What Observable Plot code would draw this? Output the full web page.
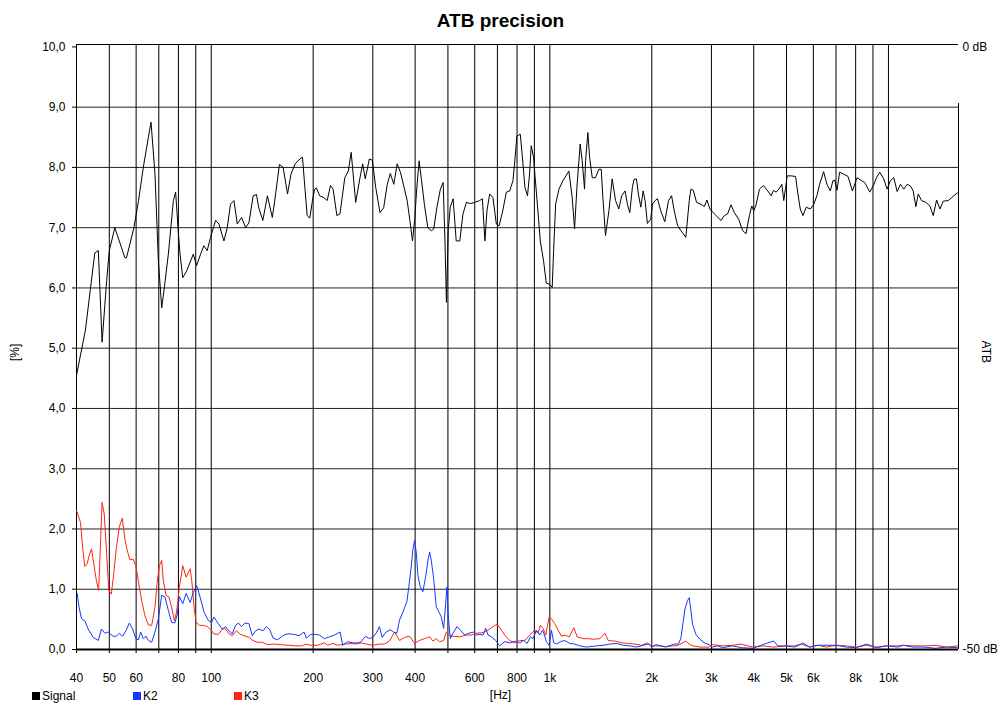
<!DOCTYPE html>
<html><head><meta charset="utf-8">
<script src="https://cdn.jsdelivr.net/npm/d3@7"></script>
<script src="https://cdn.jsdelivr.net/npm/@observablehq/plot@0.6"></script>
<style>
body{margin:0;background:#fff;font-family:"Liberation Sans",Arial,sans-serif;}
#wrap{position:relative;width:1004px;height:706px;overflow:hidden;}
#legend{position:absolute;left:32px;top:689px;font-size:12px;color:#000;display:flex;}
#legend .item{width:101px;display:flex;align-items:center;white-space:nowrap;}
#legend .sw{width:8px;height:8px;margin-right:2px;display:inline-block;}
</style></head>
<body><div id="wrap"></div>
<script>
// ---- data (frequency in Hz, values in %) ----
const sigF = [40,42.5,44,45.3,46.4,47.6,49.1,50,51.9,55.6,56.2,59.1,61,63,65.2,66.4,68.2,69.8,71.4,72.3,74.7,77.3,78.5,80,80.9,82.4,84.6,88.5,90.5,93,95.1,97.3,99.5,103,105.4,109,111.5,114,116.7,119.4,122.9,126.3,129.2,133,136,138,142,146.5,151.5,154,159,163,168,172,177,182.6,186,189,192,195.5,199,202,204.5,209,215,220,225,229,235,240,248,254,259,267,275,280,285,293,299,306,315,323,331,338,346,354,362,370,379,386,393,399,404,411,418,426,436,447,454,464,475,484,490,495,501,508,518,529,542,554,567,582,600,620,632,643,652,664,679,695,708,724,744,761,778,789,799,818,833,844,859,871,881,895,904,920,937,958,976,998,1016,1026,1040,1064,1093,1138,1164,1183,1202,1229,1246,1266,1275,1295,1310,1334,1364,1395,1418,1434,1460,1494,1528,1563,1598,1630,1668,1694,1722,1753,1772,1802,1826,1856,1886,1911,1941,1986,2009,2046,2079,2126,2185,2241,2288,2330,2382,2438,2521,2580,2610,2652,2712,2794,2858,2910,2970,3059,3202,3276,3350,3428,3507,3611,3711,3796,3884,3947,4001,4065,4159,4274,4401,4503,4576,4660,4745,4842,4908,4964,5020,5160,5316,5402,5489,5590,5718,5876,6010,6148,6261,6433,6581,6733,6856,6934,7046,7175,7374,7596,7824,8077,8318,8510,8805,9048,9214,9425,9686,9909,10137,10370,10608,10852,11102,11356,11617,11831,12049,12242,12522,12899,13256,13561,13872,14192,14518,15021,15369,16000];
const sigV = [4.55,5.3,6.0,6.58,6.62,5.1,6.12,6.62,7.0,6.5,6.5,7.0,7.45,8.0,8.5,8.75,7.9,6.45,5.67,5.9,6.56,7.45,7.59,6.9,6.56,6.17,6.28,6.56,6.37,6.56,6.7,6.62,6.84,7.12,7.06,6.78,7.0,7.39,7.45,7.06,7.17,7.0,7.08,7.53,7.55,7.34,7.12,7.53,7.17,7.45,8.05,8.0,7.56,7.89,8.06,8.14,8.17,7.67,7.2,7.16,7.45,7.64,7.66,7.53,7.5,7.45,7.7,7.64,7.2,7.23,7.83,7.94,8.25,7.42,7.83,8.06,7.81,8.14,8.12,7.67,7.25,7.33,7.72,7.9,7.72,8.06,7.92,7.7,7.45,7.12,6.78,7.14,7.61,8.11,7.78,7.39,7.0,6.95,6.98,7.34,7.64,7.75,6.78,5.76,6.95,7.34,7.48,6.78,6.78,7.23,7.42,7.4,7.42,7.45,7.48,6.78,7.28,7.56,7.5,7.06,7.03,7.25,7.59,7.61,7.78,8.14,8.52,8.55,8.06,7.67,7.53,7.89,8.36,8.17,7.86,7.34,6.78,6.45,6.08,6.06,6.01,6.62,7.39,7.64,7.78,7.94,7.5,6.98,7.67,8.39,8.11,7.64,8.11,8.58,8.17,7.83,7.83,7.97,7.97,7.5,6.87,7.28,7.81,7.45,7.31,7.53,7.61,7.39,7.25,7.67,7.8,7.81,7.56,7.34,7.61,7.45,7.07,7.14,7.39,7.45,7.48,7.28,7.1,7.45,7.53,7.28,7.04,6.95,6.84,7.45,7.64,7.62,7.42,7.39,7.35,7.46,7.31,7.23,7.12,7.2,7.23,7.38,7.25,7.14,6.95,6.9,7.2,7.36,7.28,7.38,7.64,7.7,7.61,7.53,7.62,7.59,7.64,7.72,7.45,7.65,7.86,7.86,7.85,7.56,7.31,7.2,7.34,7.31,7.38,7.53,7.72,7.93,7.72,7.61,7.78,7.79,7.62,7.92,7.89,7.85,7.61,7.83,7.78,7.75,7.59,7.71,7.83,7.92,7.81,7.64,7.78,7.83,7.6,7.72,7.64,7.72,7.69,7.61,7.35,7.56,7.45,7.42,7.36,7.2,7.46,7.31,7.44,7.45,7.5,7.58];

const k2F = [40.2,40.7,41.4,42.3,43.3,44.8,46.4,47.4,48.5,49.6,51.3,52.5,53.5,54.7,56,57.3,58.6,59.9,60.9,61.9,63,64.2,65.2,66.7,68.2,69.8,71.4,73,74.7,76.4,78.1,79.4,80.5,82.4,84.3,86.6,88.6,90.6,92.7,95.2,98.1,100.3,101.8,104.9,107.8,110.3,112.8,115.4,118,120.2,122.9,125.8,129.2,132.2,135.2,138.4,142.2,145.5,148.8,152.2,156.7,160.4,165.2,169.7,175.7,181.7,188,191,196.7,203.5,208.6,215.8,223.3,231.1,240.2,244.5,253,261.8,270.9,277.1,285.4,293.3,301.4,308.3,314,319.7,327,337.6,345.3,353.4,359.8,368.1,378.1,383.3,389.5,393.9,398.5,403.1,407.7,414.1,421.7,429.5,436.5,441.6,446.5,453.7,461.9,470.5,478,485.6,492.3,496.8,501.3,508.2,517.6,531.8,544.1,560.5,577,595.7,606.6,620.6,634.9,646.3,656.6,671.8,692,711.1,735.5,764.4,792.8,814.8,837.3,856.5,876.3,892.3,912.8,933.7,950.9,959.5,977,995.1,1011,1027,1046,1075,1107,1146,1185,1226,1283,1374,1437,1504,1574,1647,1724,1804,1888,1953,2000,2055,2200,2330,2398,2438,2477,2510,2550,2580,2610,2639,2700,2775,2858,2956,3024,3130,3238,3468,3670,3974,4254,4402,4585,4711,4988,5280,5526,5590,5848,6188,6550,7014,7506,8038,8606,9214,9864,10682,11052,11832,12812,13716,14848,16000];
const k2V = [0.93,0.7,0.51,0.48,0.34,0.2,0.15,0.34,0.27,0.29,0.22,0.22,0.27,0.22,0.31,0.44,0.34,0.18,0.16,0.29,0.18,0.22,0.15,0.12,0.29,0.51,0.9,0.87,0.65,0.45,0.44,0.59,0.88,0.76,0.93,0.78,0.95,1.06,0.87,0.62,0.48,0.45,0.54,0.43,0.34,0.38,0.31,0.26,0.4,0.44,0.38,0.44,0.43,0.23,0.31,0.34,0.31,0.38,0.33,0.19,0.16,0.2,0.25,0.26,0.25,0.23,0.29,0.19,0.25,0.25,0.24,0.18,0.21,0.24,0.29,0.07,0.13,0.11,0.11,0.13,0.22,0.18,0.21,0.29,0.38,0.2,0.28,0.33,0.29,0.27,0.49,0.62,0.79,1.04,1.37,1.65,1.81,1.62,1.23,1.04,0.96,1.2,1.48,1.62,1.48,1.18,0.71,0.62,0.54,0.35,0.76,1.04,0.54,0.18,0.27,0.38,0.32,0.24,0.27,0.29,0.24,0.25,0.24,0.35,0.24,0.21,0.15,0.06,0.13,0.11,0.14,0.11,0.15,0.1,0.21,0.18,0.32,0.24,0.32,0.27,0.13,0.07,0.32,0.11,0.09,0.13,0.15,0.1,0.09,0.06,0.04,0.06,0.07,0.09,0.1,0.07,0.06,0.04,0.07,0.09,0.04,0.08,0.04,0.09,0.09,0.19,0.47,0.69,0.81,0.86,0.64,0.42,0.25,0.17,0.11,0.08,0.04,0.06,0.03,0.06,0.03,0.02,0.08,0.11,0.14,0.06,0.06,0.04,0.09,0.11,0.04,0.07,0.07,0.07,0.04,0.03,0.09,0.03,0.06,0.04,0.07,0.04,0.04,0.02,0.04,0.03];

const k3F = [40,41.1,41.7,42.3,43,43.6,44.3,45,45.8,46.5,46.8,47.6,48.3,49.1,49.8,50.7,51.5,52.5,53.5,54.6,55.6,56.5,57.5,58.8,59.9,60.9,62.3,63.7,65.2,66.7,68.2,69.3,70.3,71.4,72.2,73.5,75,76.4,77.8,79,80.5,82.4,84.3,86.6,87.6,89,90.2,92.3,94.8,97.4,100.3,101.8,104.9,107.8,110.3,112.8,115.4,118.6,122.1,124.9,129.2,132.8,136.8,141.6,146.5,153.2,160.4,169.7,177.7,185.9,190.1,196.7,205.9,215.8,220.8,228.5,236.3,247.4,258.8,267.8,277.1,286.7,300,314,324.8,336,347.7,359.8,372.3,385.1,398.5,412.3,426.5,441.6,451.6,461.9,472.6,485.6,494.5,505.9,517.6,541.6,566.8,586.3,606.6,634.9,656.6,679.5,698.2,719.2,735.5,760.9,787.3,814.8,843.1,872.3,902.5,923.2,937.9,955.2,972.6,995.1,1011,1034,1058,1082,1107,1141,1177,1204,1255,1298,1343,1405,1454,1487,1556,1628,1704,1784,1866,1940,2000,2100,2200,2330,2398,2466,2521,2580,2639,2775,2956,3024,3130,3238,3468,3670,3974,4254,4585,4988,5280,5526,5848,6188,6550,7014,7506,8038,8606,9214,9864,10682,11052,11832,12812,13716,14848,16000];
const k3V = [2.31,2.11,1.7,1.38,1.42,1.56,1.67,1.42,1.14,0.98,1.36,2.44,2.25,1.59,0.98,0.92,1.25,1.7,2.03,2.18,1.83,1.64,1.49,1.5,1.39,1.14,0.81,0.56,0.41,0.4,0.7,1.14,1.39,1.48,1.14,0.9,0.87,0.7,0.48,0.62,1.03,1.39,1.2,1.34,1.14,0.7,0.45,0.4,0.4,0.38,0.31,0.26,0.25,0.34,0.34,0.26,0.23,0.31,0.25,0.23,0.2,0.15,0.12,0.12,0.08,0.09,0.08,0.07,0.06,0.06,0.09,0.07,0.07,0.11,0.07,0.1,0.07,0.09,0.1,0.09,0.11,0.09,0.07,0.09,0.09,0.14,0.29,0.15,0.2,0.22,0.1,0.15,0.18,0.21,0.14,0.18,0.13,0.15,0.29,0.24,0.22,0.21,0.24,0.24,0.27,0.28,0.32,0.38,0.42,0.32,0.24,0.15,0.11,0.15,0.15,0.24,0.32,0.27,0.4,0.35,0.24,0.54,0.51,0.43,0.32,0.22,0.24,0.21,0.36,0.21,0.18,0.18,0.17,0.18,0.27,0.15,0.14,0.11,0.1,0.09,0.07,0.11,0.06,0.06,0.05,0.06,0.07,0.11,0.14,0.09,0.06,0.04,0.04,0.08,0.07,0.06,0.07,0.09,0.04,0.06,0.04,0.06,0.06,0.09,0.04,0.07,0.04,0.07,0.06,0.04,0.07,0.04,0.06,0.06,0.07,0.06,0.06,0.07,0.04,0.06];

const xGrid = [50,60,70,80,90,100,200,300,400,500,600,700,800,900,1000,2000,3000,4000,5000,6000,7000,8000,9000,10000];
const xTickValues = [40,50,60,70,80,90,100,200,300,400,500,600,700,800,900,1000,2000,3000,4000,5000,6000,7000,8000,9000,10000];
const xLabelValues = [40,50,60,80,100,200,300,400,600,800,1000,2000,3000,4000,5000,6000,8000,10000];
const xLabelText = ["40","50","60","80","100","200","300","400","600","800","1k","2k","3k","4k","5k","6k","8k","10k"];
const yTicks = [0,1,2,3,4,5,6,7,8,9,10];
const yTickText = ["0,0","1,0","2,0","3,0","4,0","5,0","6,0","7,0","8,0","9,0","10,0"];
const seriesNames = ["Signal","K2","K3"];
const seriesColors = ["#000000","#1438ff","#ff2410"];

const xDomain = [40, 16100];
const yDomain = [0, 10.04];
const rightAxisTop = 9.06;

const toRows = (F, V) => F.map((f, i) => ({f, v: V[i]}));
const sig = toRows(sigF, sigV), k2 = toRows(k2F, k2V), k3 = toRows(k3F, k3V);
const yLabel = new Map(yTicks.map((d, i) => [d, yTickText[i]]));

const chart = Plot.plot({
  width: 1004, height: 706,
  marginLeft: 76, marginRight: 46, marginTop: 44, marginBottom: 57,
  style: {fontFamily: "'Liberation Sans', Arial, sans-serif", fontSize: "12px", color: "#000", background: "#fff"},
  x: {type: "log", domain: xDomain},
  y: {domain: yDomain},
  marks: [
    Plot.ruleY(yTicks.slice(1, 10), {stroke: "#222", strokeWidth: 1}),
    Plot.ruleX(xGrid, {stroke: "#000", strokeWidth: 1}),
    Plot.ruleX([xDomain[0]], {stroke: "#000"}),
    Plot.ruleY([yDomain[1]], {stroke: "#000"}),
    Plot.ruleX([xDomain[1]], {y1: 0, y2: rightAxisTop, stroke: "#000"}),
    Plot.axisX(xTickValues, {tickSize: 4, tickFormat: () => "", label: null}),
    Plot.text(xLabelValues, {x: d => d, text: (d, i) => xLabelText[i], frameAnchor: "bottom", dy: 29, lineAnchor: "middle", fontSize: 12}),
    Plot.axisY(yTicks, {tickSize: 4, tickPadding: 7, fontSize: 12, tickFormat: d => yLabel.get(d), label: null}),
    Plot.line(k3, {x: "f", y: "v", stroke: seriesColors[2], strokeWidth: 1}),
    Plot.line(k2, {x: "f", y: "v", stroke: seriesColors[1], strokeWidth: 1}),
    Plot.line(sig, {x: "f", y: "v", stroke: seriesColors[0], strokeWidth: 1}),
    Plot.ruleY([0], {stroke: "#000", strokeWidth: 2}),
    Plot.text(["ATB precision"], {frameAnchor: "top", dy: -24, dx: -17, lineAnchor: "middle", fontSize: 19, fontWeight: "bold"}),
    Plot.text(["[%]"], {frameAnchor: "left", dx: -61, dy: 14, lineAnchor: "middle", rotate: -90, fontSize: 12}),
    Plot.text(["ATB"], {frameAnchor: "right", dx: 27, dy: 16, lineAnchor: "middle", rotate: 90, fontSize: 12}),
    Plot.text(["0 dB"], {frameAnchor: "top-right", dx: 4, dy: 3, lineAnchor: "middle", textAnchor: "start", fontSize: 12}),
    Plot.text(["-50 dB"], {frameAnchor: "bottom-right", dx: 4, lineAnchor: "middle", textAnchor: "start", fontSize: 12}),
    Plot.text(["[Hz]"], {frameAnchor: "bottom", dy: 46, dx: -17, lineAnchor: "middle", fontSize: 12})
  ]
});
const wrap = document.getElementById("wrap");
wrap.appendChild(chart);

const legend = document.createElement("div");
legend.id = "legend";
seriesNames.forEach((name, i) => {
  const item = document.createElement("div");
  item.className = "item";
  const sw = document.createElement("span");
  sw.className = "sw";
  sw.style.background = seriesColors[i];
  item.appendChild(sw);
  item.appendChild(document.createTextNode(name));
  legend.appendChild(item);
});
wrap.appendChild(legend);
</script>
</body></html>
